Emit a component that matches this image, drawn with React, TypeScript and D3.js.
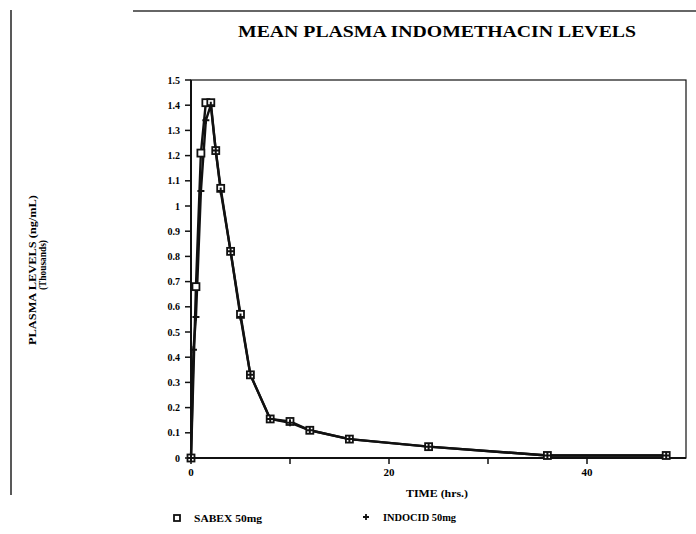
import React from "react";
import * as d3 from "d3";

const times = [0, 0.5, 1, 1.5, 2, 2.5, 3, 4, 5, 6, 8, 10, 12, 16, 24, 36, 48];
const sabex = [0, 0.68, 1.21, 1.41, 1.41, 1.22, 1.07, 0.82, 0.57, 0.33, 0.155, 0.145, 0.11, 0.075, 0.045, 0.01, 0.01];
const indocidTimes = [0, 0.25, 0.5, 1, 1.5, 2, 2.5, 3, 4, 5, 6, 8, 10, 12, 16, 24, 36, 48];
const indocid = [0, 0.43, 0.56, 1.06, 1.34, 1.4, 1.22, 1.06, 0.82, 0.56, 0.33, 0.155, 0.14, 0.11, 0.075, 0.045, 0.01, 0.01];
const yTicks = [0, 0.1, 0.2, 0.3, 0.4, 0.5, 0.6, 0.7, 0.8, 0.9, 1, 1.1, 1.2, 1.3, 1.4, 1.5];
const xTicks = [0, 10, 20, 30, 40];
const xLabels = [0, 20, 40];

const FONT = "'Liberation Serif', 'Times New Roman', serif";

export default function App() {
  const x = d3.scaleLinear().domain([0, 50]).range([191, 686]);
  const y = d3.scaleLinear().domain([0, 1.5]).range([458, 80]);
  const line = d3.line<[number, number]>().x((d) => x(d[0])).y((d) => y(d[1]));
  const sData: [number, number][] = times.map((t, i) => [t, sabex[i]]);
  const iData: [number, number][] = indocidTimes.map((t, i) => [t, indocid[i]]);

  return (
    <svg width={696} height={534} style={{ position: "absolute", left: 0, top: 0, background: "#fff" }}>
      <rect x={0} y={0} width={696} height={534} fill="#fff" />
      {/* scan border artifacts */}
      <line x1={133} y1={11} x2={696} y2={11} stroke="#333" strokeWidth={1.5} />
      <line x1={11} y1={10} x2={11} y2={495} stroke="#222" strokeWidth={1.5} />

      <text x={437} y={37} textAnchor="middle" fontFamily={FONT} fontWeight="bold" fontSize={16}
        textLength={398} lengthAdjust="spacingAndGlyphs">MEAN PLASMA INDOMETHACIN LEVELS</text>

      {/* frame */}
      <rect x={x(0)} y={y(1.5)} width={x(50) - x(0)} height={y(0) - y(1.5)} fill="none" stroke="#111" strokeWidth={1.2} />
      <line x1={x(0)} y1={y(0)} x2={x(50)} y2={y(0)} stroke="#111" strokeWidth={2} />
      <line x1={x(0)} y1={y(0)} x2={x(0)} y2={y(1.5)} stroke="#111" strokeWidth={2} />

      {yTicks.map((v) => (
        <g key={"y" + v}>
          <line x1={x(0) - 6} x2={x(0)} y1={y(v)} y2={y(v)} stroke="#111" strokeWidth={1.5} />
          <text x={180} y={y(v) + 3.5} textAnchor="end" fontFamily={FONT} fontWeight="bold" fontSize={10}>{String(v)}</text>
        </g>
      ))}
      {xTicks.map((v) => (
        <line key={"x" + v} x1={x(v)} x2={x(v)} y1={y(0)} y2={y(0) + 6} stroke="#111" strokeWidth={1.5} />
      ))}
      {xLabels.map((v) => (
        <text key={"xl" + v} x={x(v)} y={476} textAnchor="middle" fontFamily={FONT} fontWeight="bold" fontSize={11}>{String(v)}</text>
      ))}

      <text x={437} y={497} textAnchor="middle" fontFamily={FONT} fontWeight="bold" fontSize={11}
        textLength={62} lengthAdjust="spacingAndGlyphs">TIME (hrs.)</text>

      <text transform="translate(36,270) rotate(-90)" textAnchor="middle" fontFamily={FONT} fontWeight="bold" fontSize={11}
        textLength={150} lengthAdjust="spacingAndGlyphs">PLASMA LEVELS (ng/mL)</text>
      <text transform="translate(46,265) rotate(-90)" textAnchor="middle" fontFamily={FONT} fontWeight="bold" fontSize={11}
        textLength={50} lengthAdjust="spacingAndGlyphs">(Thousands)</text>

      {/* lines */}
      <path d={line(iData) || ""} fill="none" stroke="#111" strokeWidth={2.4} strokeLinejoin="round" />
      <path d={line(sData) || ""} fill="none" stroke="#111" strokeWidth={2.4} strokeLinejoin="round" />

      {sData.map((d, i) => (
        <rect key={"s" + i} x={x(d[0]) - 3.5} y={y(d[1]) - 3.5} width={7} height={7} fill="#fff" stroke="#111" strokeWidth={1.8} />
      ))}
      {iData.map((d, i) => (
        <path key={"i" + i} d={`M${x(d[0]) - 3.5},${y(d[1])}h7M${x(d[0])},${y(d[1]) - 3.5}v7`} stroke="#111" strokeWidth={2} />
      ))}

      {/* legend */}
      <rect x={174} y={515} width={6} height={6} fill="#fff" stroke="#111" strokeWidth={1.8} />
      <text x={194} y={522} fontFamily={FONT} fontWeight="bold" fontSize={11}
        textLength={68} lengthAdjust="spacingAndGlyphs">SABEX 50mg</text>
      <path d="M363,517h6M366,514v6" stroke="#111" strokeWidth={1.8} />
      <text x={383} y={521} fontFamily={FONT} fontWeight="bold" fontSize={11}
        textLength={73} lengthAdjust="spacingAndGlyphs">INDOCID 50mg</text>
    </svg>
  );
}
